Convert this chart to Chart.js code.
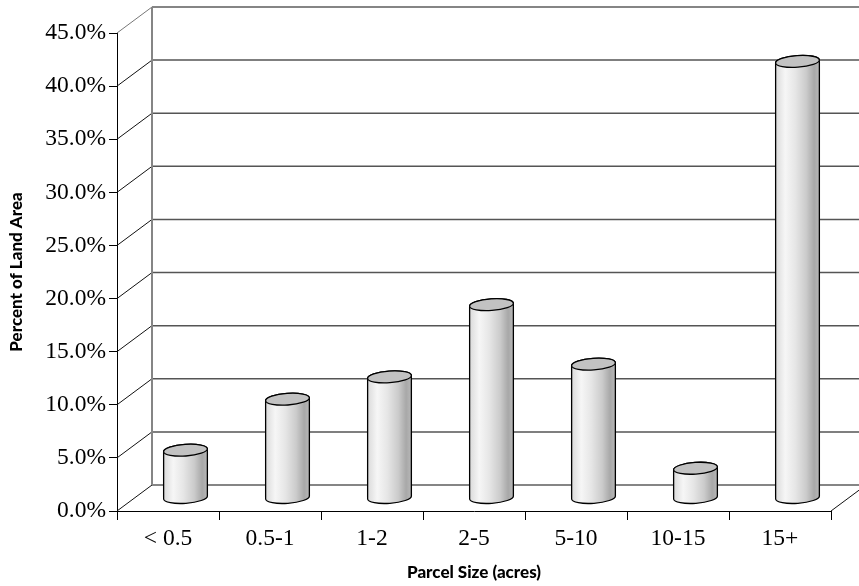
<!DOCTYPE html>
<html>
<head>
<meta charset="utf-8">
<script src="https://cdn.jsdelivr.net/npm/chart.js@4"></script>
<style>
  html, body { margin: 0; padding: 0; background: #fff; }
  #chart { display: block; }
</style>
</head>
<body>
<canvas id="chart" width="859" height="586"></canvas>
<script>
// Percent of land area by parcel size (3D cylinder look)
const categories = ['< 0.5', '0.5-1', '1-2', '2-5', '5-10', '10-15', '15+'];
const landShare = [4.5, 9.3, 11.4, 18.2, 12.6, 2.8, 41.1];
const yTicks = [0, 5, 10, 15, 20, 25, 30, 35, 40, 45];

// depth offset of the back wall (px)
const DX = 35, DY = -26;

function line(ctx, x1, y1, x2, y2, color, w){
  ctx.beginPath();
  ctx.strokeStyle = color;
  ctx.lineWidth = w;
  ctx.moveTo(x1, y1);
  ctx.lineTo(x2, y2);
  ctx.stroke();
}

const walls = {
  id: 'walls',
  beforeDatasetsDraw(chart){
    const {ctx, chartArea: a, scales: {y}} = chart;
    ctx.save();
    const last = yTicks[yTicks.length - 1];
    yTicks.forEach(v => {
      const py = y.getPixelForValue(v);
      const edge = (v === 0 || v === last);
      line(ctx, a.left + DX, py + DY, a.right + DX, py + DY, edge ? '#858585' : '#555', edge ? 2 : 1.5);
      line(ctx, a.left, py, a.left + DX, py + DY, v === last ? '#777' : '#111', 1);
    });
    // back wall left edge
    line(ctx, a.left + DX, y.getPixelForValue(last) + DY, a.left + DX, y.getPixelForValue(0) + DY, '#858585', 2);
    // floor right edge
    line(ctx, a.right, a.bottom, a.right + DX, a.bottom + DY, '#111', 1);
    ctx.restore();
  },
  afterDatasetsDraw(chart){
    const {ctx} = chart;
    const meta = chart.getDatasetMeta(0);
    ctx.save();
    meta.data.forEach(bar => {
      const p = bar.getProps(['x', 'y', 'base', 'width'], true);
      const cx = p.x + DX / 2, top = p.y + DY / 2, bot = p.base + DY / 2;
      const rx = p.width / 2, ry = 5.8, rot = -0.07;
      const g = ctx.createLinearGradient(cx - rx, 0, cx + rx, 0);
      g.addColorStop(0, '#dadada');
      g.addColorStop(0.22, '#f6f6f6');
      g.addColorStop(0.45, '#e6e6e6');
      g.addColorStop(0.7, '#cbcbcb');
      g.addColorStop(0.88, '#a8a8a8');
      g.addColorStop(1, '#b8b8b8');
      ctx.beginPath();
      ctx.ellipse(cx, bot, rx, ry, rot, 0, Math.PI);
      ctx.ellipse(cx, top, rx, ry, rot, Math.PI, 2 * Math.PI);
      ctx.closePath();
      ctx.fillStyle = g;
      ctx.fill();
      ctx.strokeStyle = '#000';
      ctx.lineWidth = 1.3;
      ctx.stroke();
      ctx.beginPath();
      ctx.ellipse(cx, top, rx, ry, rot, 0, 2 * Math.PI);
      ctx.fillStyle = '#c2c2c2';
      ctx.fill();
      ctx.stroke();
    });
    ctx.restore();
  }
};

const ctx = document.getElementById('chart').getContext('2d');
new Chart(ctx, {
  type: 'bar',
  data: {
    labels: categories,
    datasets: [{
      data: landShare,
      backgroundColor: 'rgba(0,0,0,0)',
      borderWidth: 0,
      barPercentage: 0.43,
      categoryPercentage: 1
    }]
  },
  options: {
    responsive: false,
    animation: false,
    devicePixelRatio: 1,
    layout: { padding: { top: 33, right: 28, left: 0, bottom: 0 } },
    plugins: { legend: { display: false }, tooltip: { enabled: false } },
    scales: {
      x: {
        afterFit: s => { s.height = 75; },
        grid: { offset: true, drawOnChartArea: false, tickLength: 9, color: '#000', lineWidth: 1 },
        border: { display: true, color: '#000', width: 1 },
        ticks: { color: '#000', padding: 5, font: { family: '"Liberation Serif", "Times New Roman", serif', size: 23.5 } },
        title: {
          display: true, text: 'Parcel Size (acres)', color: '#000',
          font: { family: 'Lato, sans-serif', size: 17, weight: 900, lineHeight: 1.2 },
          padding: { top: 0, bottom: 3 }
        }
      },
      y: {
        min: 0, max: 45,
        afterFit: s => { s.width = 117; },
        afterBuildTicks: s => { s.ticks = yTicks.map(v => ({ value: v })); },
        grid: { drawOnChartArea: false, tickLength: 8, color: '#000', lineWidth: 1 },
        border: { display: true, color: '#000', width: 1 },
        ticks: {
          color: '#000', padding: 3,
          font: { family: '"Liberation Serif", "Times New Roman", serif', size: 23.5 },
          callback: v => v.toFixed(1) + '%'
        },
        title: {
          display: true, text: 'Percent of Land Area', color: '#000',
          font: { family: 'Lato, sans-serif', size: 17, weight: 900, lineHeight: 1 },
          padding: { top: 8, bottom: 0 }
        }
      }
    }
  },
  plugins: [walls]
});
</script>
</body>
</html>
